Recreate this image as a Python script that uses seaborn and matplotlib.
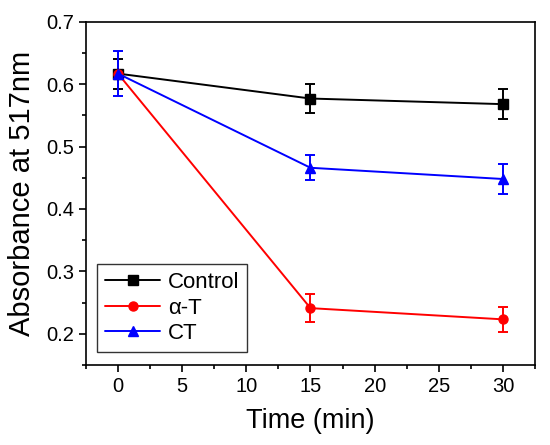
import matplotlib
matplotlib.use('Agg')
import matplotlib.pyplot as plt
import seaborn as sns
from matplotlib.lines import Line2D
from matplotlib.ticker import MultipleLocator

sns.set_style('ticks')
plt.rcParams['font.family'] = ['Liberation Sans', 'DejaVu Sans']
plt.rcParams['text.color'] = 'black'
plt.rcParams['axes.labelcolor'] = 'black'

time = [0, 15, 30]
control = [0.617, 0.577, 0.568]
control_err = [0.024, 0.023, 0.024]
alpha_t = [0.617, 0.241, 0.223]
alpha_t_err = [0.005, 0.022, 0.020]
ct = [0.617, 0.466, 0.448]
ct_err = [0.036, 0.020, 0.024]

series = [
    ('Control', control, control_err, 'black', 's'),
    ('\u03b1-T', alpha_t, alpha_t_err, 'red', 'o'),
    ('CT', ct, ct_err, 'blue', '^'),
]

fig = plt.figure(figsize=(5.5, 4.45), dpi=100)
ax = fig.add_axes([0.156, 0.180, 0.817, 0.771])

handles = []
for name, ys, errs, color, marker in series:
    ax.errorbar(time, ys, yerr=errs, color=color, marker=marker, markersize=6.5,
                linewidth=1.4, elinewidth=1.4, capsize=3.5, capthick=1.4)
    handles.append(Line2D([], [], color=color, marker=marker, markersize=6.5,
                          linewidth=1.4, label=name))

ax.set_xlim(-2.5, 32.5)
ax.set_ylim(0.15, 0.7)
ax.xaxis.set_major_locator(MultipleLocator(5))
ax.xaxis.set_minor_locator(MultipleLocator(2.5))
ax.yaxis.set_major_locator(MultipleLocator(0.1))
ax.yaxis.set_minor_locator(MultipleLocator(0.05))
ax.tick_params(which='major', direction='out', length=5, width=1.2, labelsize=14.5,
               colors='black', labelcolor='black')
ax.tick_params(which='minor', direction='out', length=3, width=1.2, colors='black')
for s in ax.spines.values():
    s.set_linewidth(1.2)
    s.set_color('black')

ax.set_xlabel('Time (min)', fontsize=19.5, labelpad=9, color='black')
ax.set_ylabel('Absorbance at 517nm', fontsize=21, labelpad=7, color='black')

leg = ax.legend(handles=handles, loc='lower left', bbox_to_anchor=(0.025, 0.038), fontsize=16,
                frameon=True, fancybox=False, edgecolor='black', handlelength=2.5,
                borderpad=0.35, labelspacing=0.2, handletextpad=0.35, borderaxespad=0.0)
leg.get_frame().set_linewidth(1.0)
for t in leg.get_texts():
    t.set_color('black')

fig.savefig('out.png', dpi=100)
